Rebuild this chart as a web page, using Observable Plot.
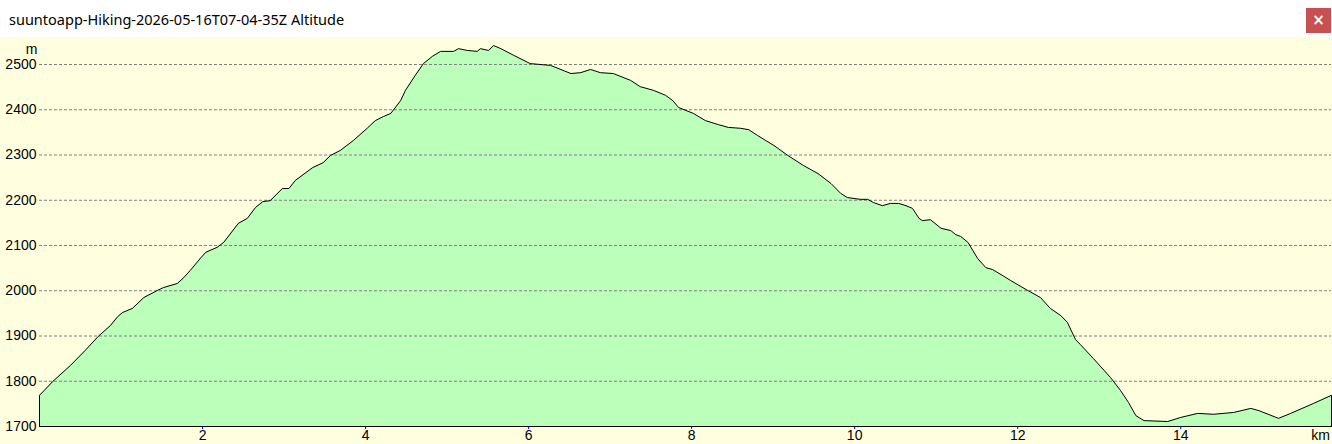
<!DOCTYPE html>
<html>
<head>
<meta charset="utf-8">
<script src="https://cdn.jsdelivr.net/npm/d3@7"></script>
<script src="https://cdn.jsdelivr.net/npm/@observablehq/plot@0.6"></script>
<style>
  html, body { margin: 0; padding: 0; background: #ffffff; overflow: hidden; }
  #bar { position: relative; height: 37px; background: #ffffff; }
  #title { position: absolute; left: 9px; top: 9px; font: 14.5px "Noto Sans", "Open Sans", sans-serif; color: #000; white-space: nowrap; }
  #close { position: absolute; left: 1306px; top: 8px; width: 25px; height: 25px; background: #c75050; color: #fff; font: bold 15px "DejaVu Sans", sans-serif; text-align: center; line-height: 25px; }
  #chart svg { display: block; }
</style>
</head>
<body>
<div id="bar"><div id="title">suuntoapp-Hiking-2026-05-16T07-04-35Z Altitude</div><div id="close">×</div></div>
<div id="chart"></div>
<script>
const titleText = "suuntoapp-Hiking-2026-05-16T07-04-35Z Altitude";
const yUnit = "m";
const xUnit = "km";
const xTicks = [2, 4, 6, 8, 10, 12, 14];
const yTicks = [1700, 1800, 1900, 2000, 2100, 2200, 2300, 2400, 2500];
const gridTicks = [1800, 1900, 2000, 2100, 2200, 2300, 2400, 2500];
const baseAlt = 1700;
const distanceKm = [
  0, 0.06, 0.16, 0.38, 0.56, 0.72, 0.87, 0.96, 1.02, 1.14, 1.28, 1.45, 1.52, 1.69, 1.77, 1.85,
  1.98, 2.04, 2.18, 2.26, 2.44, 2.55, 2.65, 2.74, 2.83, 2.98, 3.06, 3.14, 3.35, 3.48, 3.57, 3.69,
  3.85, 4.02, 4.12, 4.22, 4.31, 4.43, 4.49, 4.61, 4.71, 4.82, 4.92, 5.08, 5.14, 5.25, 5.37, 5.41,
  5.51, 5.57, 5.66, 5.82, 6.02, 6.27, 6.52, 6.64, 6.76, 6.88, 7.04, 7.25, 7.37, 7.53, 7.68, 7.77,
  7.84, 8.02, 8.17, 8.33, 8.45, 8.60, 8.70, 8.81, 9.01, 9.18, 9.37, 9.55, 9.71, 9.83, 9.91, 10.07,
  10.16, 10.23, 10.34, 10.44, 10.54, 10.63, 10.71, 10.79, 10.83, 10.93, 11.06, 11.18, 11.24, 11.30,
  11.39, 11.51, 11.61, 11.69, 11.83, 11.91, 12.12, 12.28, 12.40, 12.53, 12.61, 12.71, 12.77, 12.93,
  13.14, 13.26, 13.36, 13.45, 13.55, 13.84, 14.00, 14.21, 14.40, 14.65, 14.86, 14.96, 15.20, 15.35,
  15.63, 15.85
];
const altitudeM = [
  1769, 1780, 1799, 1835, 1868, 1899, 1923, 1943, 1952, 1961, 1985, 2001, 2007, 2016, 2029, 2045,
  2073, 2085, 2096, 2107, 2149, 2160, 2184, 2197, 2199, 2226, 2226, 2244, 2272, 2283, 2299, 2310,
  2332, 2359, 2376, 2385, 2392, 2420, 2443, 2476, 2502, 2518, 2529, 2529, 2535, 2531, 2529, 2535,
  2531, 2542, 2535, 2520, 2502, 2498, 2480, 2482, 2489, 2482, 2480, 2465, 2451, 2443, 2432, 2420,
  2405, 2392, 2376, 2367, 2361, 2359, 2356, 2343, 2321, 2299, 2277, 2259, 2237, 2215, 2206, 2202,
  2202, 2195, 2188, 2193, 2193, 2188, 2182, 2160, 2155, 2157, 2138, 2133, 2124, 2120,
  2107, 2071, 2051, 2047, 2032, 2023, 2001, 1985, 1961, 1945, 1930, 1892, 1881, 1850,
  1808, 1780, 1753, 1724, 1713, 1711, 1720, 1729, 1727, 1731, 1740, 1735, 1718, 1729,
  1751, 1769
];

const data = distanceKm.map((d, i) => ({km: d, alt: altitudeM[i]}));
const xMax = distanceKm[distanceKm.length - 1];
const outline = [{km: 0, alt: baseAlt}, ...data, {km: xMax, alt: baseAlt}];

const chart = Plot.plot({
  width: 1332,
  height: 407,
  marginLeft: 39,
  marginRight: 1,
  marginTop: 27,
  marginBottom: 18,
  style: {background: "#ffffe0", fontFamily: "'Liberation Sans', Arial, sans-serif", fontSize: "14px", color: "#000"},
  x: {domain: [0, xMax]},
  y: {domain: [baseAlt, 2500]},
  marks: [
    Plot.areaY(data, {x: "km", y1: baseAlt, y2: "alt", fill: "#bbffbb"}),
    Plot.gridY(gridTicks, {stroke: "#808080", strokeOpacity: 1, strokeDasharray: "3,2"}),
    Plot.line(outline, {x: "km", y: "alt", stroke: "#000", strokeWidth: 1}),
    Plot.ruleY([baseAlt], {stroke: "#000", strokeWidth: 1}),
    Plot.axisY(yTicks, {tickSize: 0, tickPadding: 3, label: null, fill: "#000", fontSize: 14, tickFormat: d3.format("d")}),
    Plot.axisX(xTicks, {tickSize: 3, tickPadding: 1, stroke: "#0000ff", fill: "#000", label: null, fontSize: 14, tickFormat: d3.format("d")}),
    Plot.text([yUnit], {frameAnchor: "top-left", textAnchor: "middle", lineAnchor: "bottom", dx: -8, dy: -11, fill: "#000", fontSize: 14}),
    Plot.text([xUnit], {frameAnchor: "bottom-right", textAnchor: "middle", lineAnchor: "top", dx: -11, dy: 4, fill: "#000", fontSize: 14})
  ]
});
document.getElementById("chart").append(chart);
</script>
</body>
</html>
